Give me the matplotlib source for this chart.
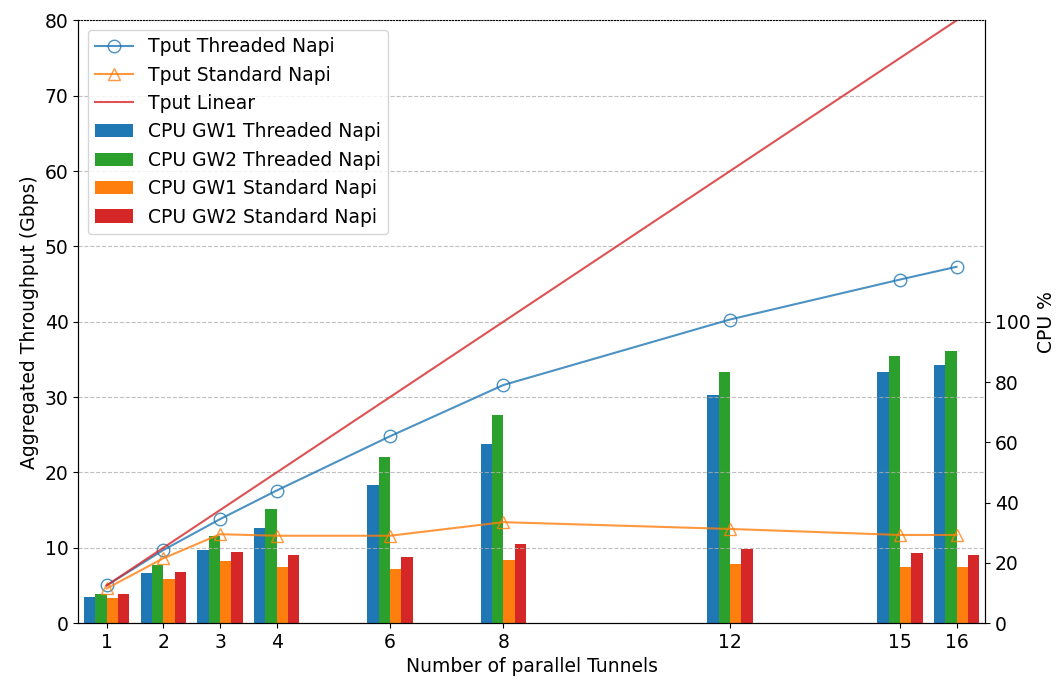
import numpy as np
import matplotlib
matplotlib.use('Agg')
import matplotlib.pyplot as plt

plt.rcParams['font.size'] = 13.5

# Number of parallel tunnels
tunnels = [1, 2, 3, 4, 6, 8, 12, 15, 16]

# Aggregated throughput (Gbps)
tput_threaded = [5.0, 9.7, 13.8, 17.6, 24.8, 31.6, 40.3, 45.6, 47.3]
tput_standard = [4.6, 8.6, 11.8, 11.6, 11.6, 13.4, 12.5, 11.7, 11.7]
tput_linear = [5, 10, 15, 20, 30, 40, 60, 75, 80]

# CPU usage (%)
cpu_gw1_threaded = [8.7, 16.5, 24.4, 31.7, 45.8, 59.4, 75.7, 83.4, 85.8]
cpu_gw2_threaded = [9.6, 19.3, 28.9, 38.0, 55.0, 69.0, 83.4, 88.8, 90.3]
cpu_gw1_standard = [8.3, 14.7, 20.7, 18.5, 18.0, 21.0, 19.6, 18.6, 18.6]
cpu_gw2_standard = [9.6, 17.0, 23.5, 22.6, 22.0, 26.3, 24.6, 23.2, 22.7]

x = np.array(tunnels)
w = 0.2

fig, ax1 = plt.subplots(figsize=(10.59, 6.81), dpi=100)
ax2 = ax1.twinx()

# CPU bars on the right axis
b1 = ax2.bar(x - 1.5 * w, cpu_gw1_threaded, w, color='tab:blue', label='CPU GW1 Threaded Napi')
b2 = ax2.bar(x - 0.5 * w, cpu_gw2_threaded, w, color='tab:green', label='CPU GW2 Threaded Napi')
b3 = ax2.bar(x + 0.5 * w, cpu_gw1_standard, w, color='tab:orange', label='CPU GW1 Standard Napi')
b4 = ax2.bar(x + 1.5 * w, cpu_gw2_standard, w, color='tab:red', label='CPU GW2 Standard Napi')
ax2.set_ylim(0, 200)
ax2.set_yticks(range(0, 101, 20))
ax2.set_ylabel('CPU %')
ax2.yaxis.set_label_coords(1.058, 0.5)

# Throughput lines on the left axis, drawn on top of the bars
ax1.set_zorder(ax2.get_zorder() + 1)
ax1.patch.set_visible(False)
l1, = ax1.plot(x, tput_threaded, marker='o', markersize=9, markerfacecolor='none',
               color='tab:blue', alpha=0.8, label='Tput Threaded Napi')
l2, = ax1.plot(x, tput_standard, marker='^', markersize=9, markerfacecolor='none',
               color='tab:orange', alpha=0.8, label='Tput Standard Napi')
l3, = ax1.plot(x, tput_linear, color='tab:red', alpha=0.8, label='Tput Linear')
ax1.set_ylim(0, 80)
ax1.set_xlim(0.5, 16.5)
ax1.set_xticks(tunnels)
ax1.set_xlabel('Number of parallel Tunnels')
ax1.set_ylabel('Aggregated Throughput (Gbps)')
ax1.grid(axis='y', linestyle='--', alpha=0.8)

# dotted top border
ax2.spines['top'].set_visible(False)
ax1.spines['top'].set_linestyle(':')

ax1.legend(handles=[l1, l2, l3, b1, b2, b3, b4], loc='upper left')

plt.subplots_adjust(left=0.074, right=0.93, top=0.97, bottom=0.085)
plt.savefig('out.png')
